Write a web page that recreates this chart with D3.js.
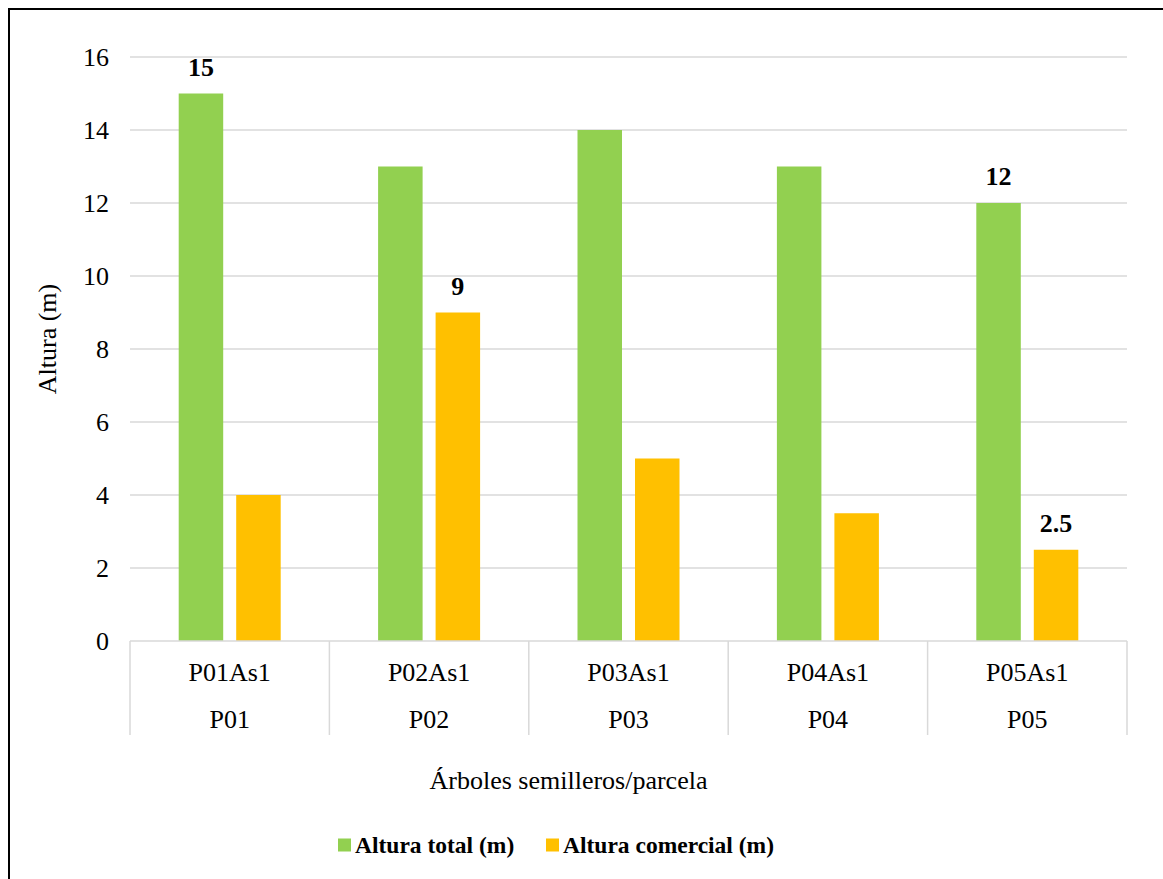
<!DOCTYPE html>
<html>
<head>
<meta charset="utf-8">
<script src="https://cdn.jsdelivr.net/npm/d3@7"></script>
<style>
  html, body { margin: 0; padding: 0; background: #fff; }
  svg { display: block; }
</style>
</head>
<body>
<svg id="chart" width="1163" height="879"></svg>
<script>
// Trees (upper label row) and plots (lower label row)
const trees = ["P01As1", "P02As1", "P03As1", "P04As1", "P05As1"];
const plots = ["P01", "P02", "P03", "P04", "P05"];

// Series names and heights in metres
const seriesNames = ["Altura total (m)", "Altura comercial (m)"];
const alturaTotal = [15, 13, 14, 13, 12];
const alturaComercial = [4, 9, 5, 3.5, 2.5];

// Which bars carry a value label
const labelTotal = [true, false, false, false, true];
const labelComercial = [false, true, false, false, true];

const yTicks = [0, 2, 4, 6, 8, 10, 12, 14, 16];
const colors = ["#92D050", "#FFC000"];

// Pick the first installed serif face (Times-like preferred)
function pickFont(candidates) {
  const ctx = document.createElement("canvas").getContext("2d");
  const probe = "mmmmmmmmmlliWWW0123456789";
  for (const name of candidates) {
    for (const base of ["monospace", "sans-serif"]) {
      ctx.font = `40px ${base}`;
      const w0 = ctx.measureText(probe).width;
      ctx.font = `40px "${name}", ${base}`;
      if (ctx.measureText(probe).width !== w0) return `"${name}", serif`;
    }
  }
  return "serif";
}
const FONT = pickFont(["Liberation Serif", "Times New Roman", "Tinos", "Times", "Nimbus Roman", "DejaVu Serif", "Noto Serif"]);

const svg = d3.select("#chart");
const root = svg.append("g").attr("font-family", FONT).style("font-family", FONT);

// Chart frame (only top and left edges fall inside the view)
root.append("rect")
  .attr("x", 9).attr("y", 9)
  .attr("width", 1400).attr("height", 1200)
  .attr("fill", "#fff")
  .attr("stroke", "#000").attr("stroke-width", 2);

const plot = { left: 130, right: 1127, top: 57, bottom: 641 };

const x0 = d3.scaleBand()
  .domain(trees)
  .range([plot.left, plot.right])
  .padding(0);

const x1 = d3.scaleBand()
  .domain(seriesNames)
  .range([0, x0.bandwidth()])
  .paddingInner(0.226)
  .paddingOuter(0.847);

const y = d3.scaleLinear()
  .domain([0, 16])
  .range([plot.bottom, plot.top]);

// Horizontal gridlines
root.append("g")
  .selectAll("line")
  .data(yTicks.filter(t => t > 0))
  .join("line")
  .attr("x1", plot.left).attr("x2", plot.right)
  .attr("y1", d => y(d)).attr("y2", d => y(d))
  .attr("stroke", "#d9d9d9").attr("stroke-width", 1.5);

// Y axis tick labels
const yAxis = d3.axisLeft(y).tickValues(yTicks).tickSize(0).tickPadding(21);
const gy = root.append("g")
  .attr("transform", `translate(${plot.left},0)`)
  .call(yAxis)
  .attr("font-family", null)
  .attr("font-size", null);
gy.select(".domain").remove();
gy.selectAll("text")
  .style("font-family", FONT)
  .attr("font-size", 26)
  .attr("fill", "#000");

// Bars
const rows = trees.map((t, i) => ({
  tree: t,
  values: [
    { series: seriesNames[0], value: alturaTotal[i], label: labelTotal[i] },
    { series: seriesNames[1], value: alturaComercial[i], label: labelComercial[i] }
  ]
}));

const groups = root.append("g")
  .selectAll("g")
  .data(rows)
  .join("g")
  .attr("transform", d => `translate(${x0(d.tree)},0)`);

groups.selectAll("rect")
  .data(d => d.values)
  .join("rect")
  .attr("x", d => x1(d.series))
  .attr("width", x1.bandwidth())
  .attr("y", d => y(d.value))
  .attr("height", d => y(0) - y(d.value))
  .attr("fill", (d, i) => colors[i]);

groups.selectAll("text.val")
  .data(d => d.values.filter(v => v.label))
  .join("text")
  .attr("class", "val")
  .attr("x", d => x1(d.series) + x1.bandwidth() / 2)
  .attr("y", d => y(d.value) - 18)
  .attr("text-anchor", "middle")
  .attr("font-size", 26)
  .attr("font-weight", "bold")
  .attr("fill", "#000")
  .text(d => d.value);

// Category axis: baseline and separators
root.append("line")
  .attr("x1", plot.left).attr("x2", plot.right)
  .attr("y1", plot.bottom).attr("y2", plot.bottom)
  .attr("stroke", "#d9d9d9").attr("stroke-width", 1.5);

const seps = trees.map(t => x0(t)).concat([plot.right]);
root.append("g")
  .selectAll("line")
  .data(seps)
  .join("line")
  .attr("x1", d => d).attr("x2", d => d)
  .attr("y1", plot.bottom).attr("y2", 735)
  .attr("stroke", "#d9d9d9").attr("stroke-width", 1.5);

root.append("g")
  .selectAll("text")
  .data(trees)
  .join("text")
  .attr("x", d => x0(d) + x0.bandwidth() / 2)
  .attr("y", 681)
  .attr("text-anchor", "middle")
  .attr("font-size", 26)
  .text(d => d);

root.append("g")
  .selectAll("text")
  .data(plots)
  .join("text")
  .attr("x", (d, i) => x0(trees[i]) + x0.bandwidth() / 2)
  .attr("y", 728)
  .attr("text-anchor", "middle")
  .attr("font-size", 26)
  .text(d => d);

// Axis titles
root.append("text")
  .attr("x", 568.5).attr("y", 789)
  .attr("text-anchor", "middle")
  .attr("font-size", 26)
  .text("Árboles semilleros/parcela");

root.append("text")
  .attr("transform", "translate(56,339) rotate(-90)")
  .attr("text-anchor", "middle")
  .attr("font-size", 26)
  .text("Altura (m)");

// Legend
const legendPos = [338, 546];
const legend = root.append("g")
  .selectAll("g")
  .data(seriesNames)
  .join("g")
  .attr("transform", (d, i) => `translate(${legendPos[i]},0)`);

legend.append("rect")
  .attr("x", 0).attr("y", 838.5)
  .attr("width", 13).attr("height", 13)
  .attr("fill", (d, i) => colors[i]);

legend.append("text")
  .attr("x", 17).attr("y", 853)
  .attr("font-size", 23.5)
  .attr("font-weight", "bold")
  .text(d => d);
</script>
</body>
</html>
